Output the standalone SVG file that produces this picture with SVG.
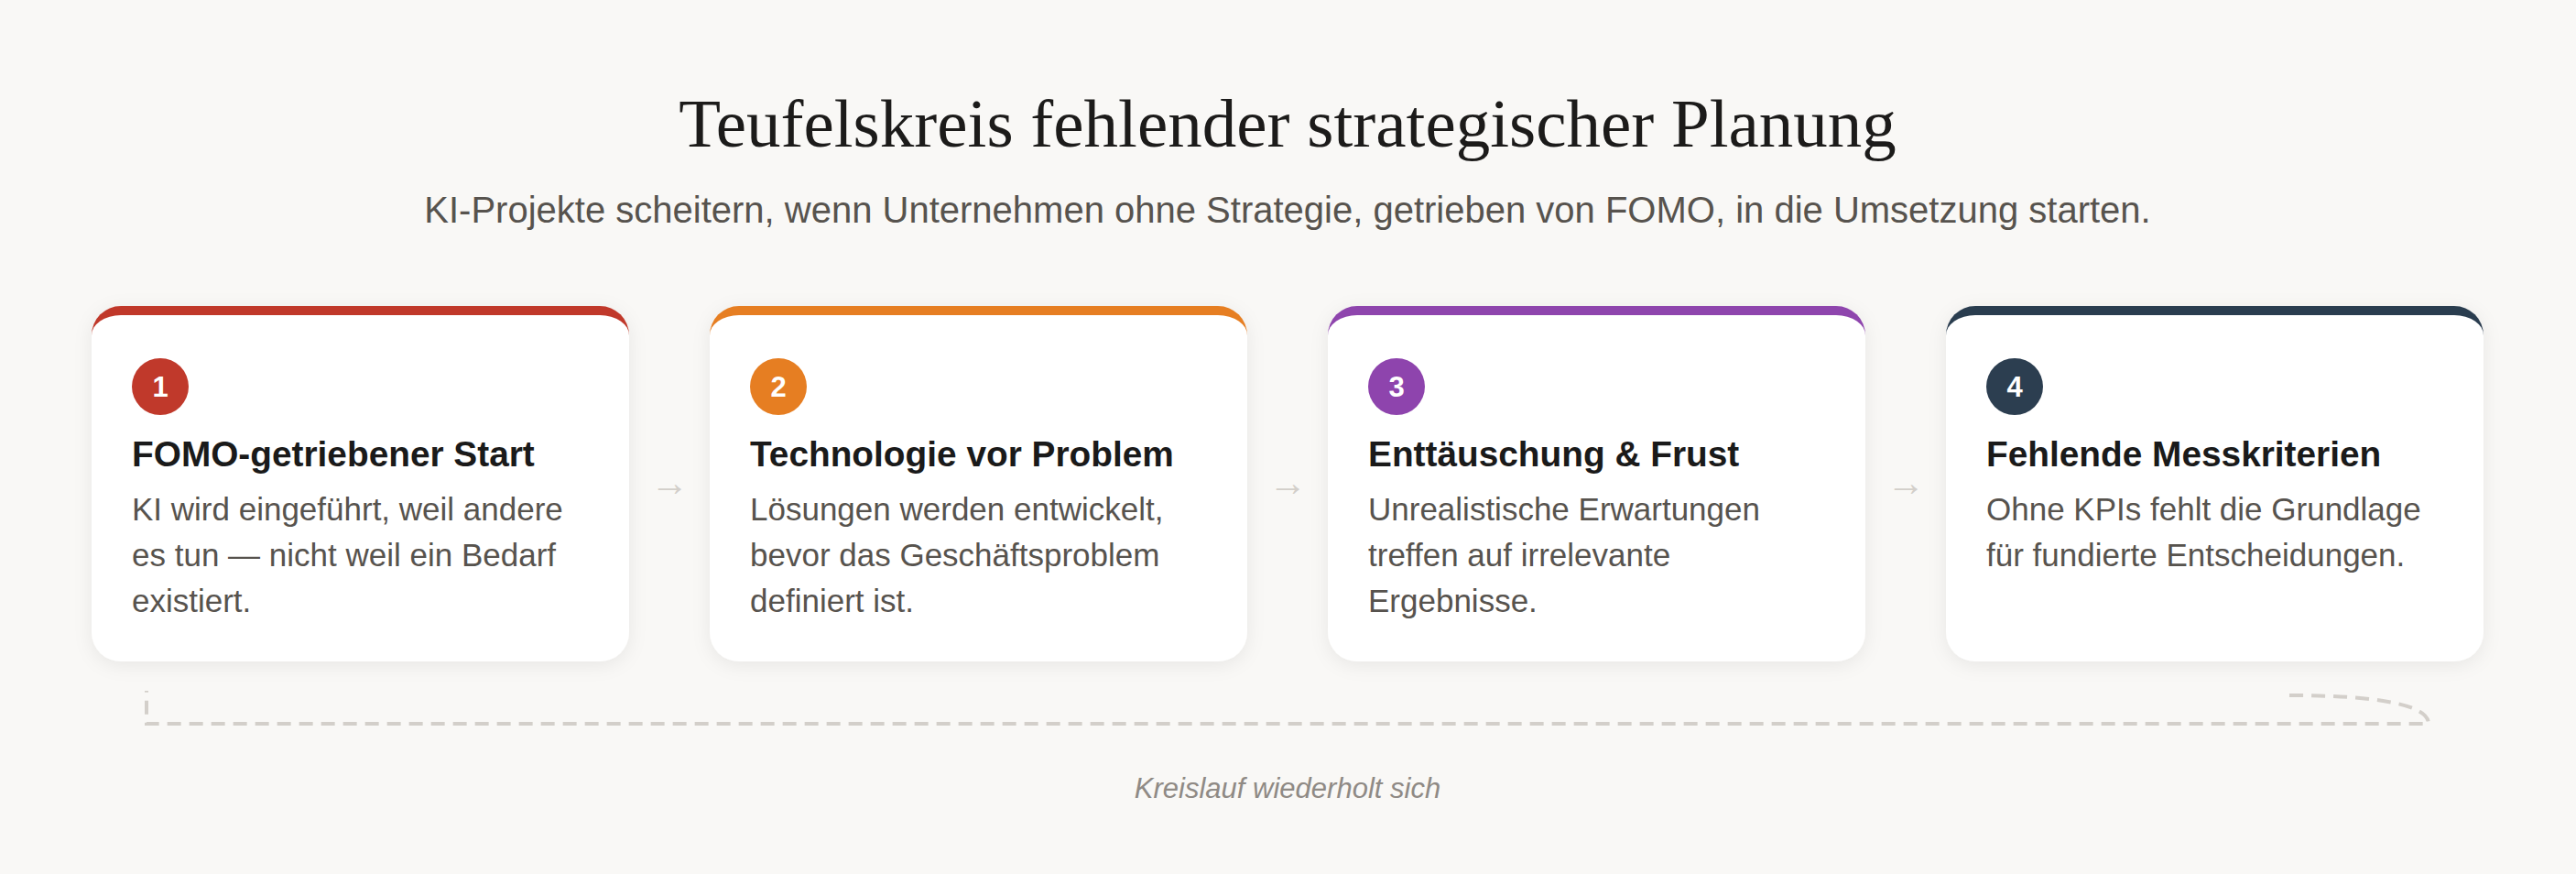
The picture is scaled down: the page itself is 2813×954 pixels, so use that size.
<svg xmlns="http://www.w3.org/2000/svg" width="2813" height="954" viewBox="0 0 2813 954">
<defs>
<style>
.bg{fill:#f9f8f6}
.title{font-family:"Liberation Serif","Times New Roman",serif;font-size:75px;fill:#1c1b1a;text-anchor:middle}
.sub{font-family:"Liberation Sans",Arial,sans-serif;font-size:40px;fill:#57534e;text-anchor:middle}
.card{fill:#ffffff}
.num{font-family:"Liberation Sans",Arial,sans-serif;font-size:31px;font-weight:bold;fill:#ffffff;text-anchor:middle}
.ctitle{font-family:"Liberation Sans",Arial,sans-serif;font-size:38.8px;font-weight:bold;fill:#1a1a1a}
.body{font-family:"Liberation Sans",Arial,sans-serif;font-size:35px;fill:#57534e}
.arrow{font-family:"Liberation Sans","DejaVu Sans",sans-serif;font-size:42px;fill:#d3cfca;text-anchor:middle}
.loop{fill:none;stroke:#d3cfca;stroke-width:4;stroke-dasharray:15 9}
.foot{font-family:"Liberation Sans",Arial,sans-serif;font-size:31px;font-style:italic;fill:#8f8a85;text-anchor:middle}
</style>
<filter id="sh" x="-10%" y="-10%" width="120%" height="125%">
<feDropShadow dx="0" dy="4" stdDeviation="10" flood-color="#000000" flood-opacity="0.07"/>
</filter>
</defs>
<rect class="bg" x="0" y="0" width="2813" height="954"/>
<g id="header">
<text class="title" x="1406" y="160">Teufelskreis fehlender strategischer Planung</text>
<text class="sub" x="1406" y="243">KI-Projekte scheitern, wenn Unternehmen ohne Strategie, getrieben von FOMO, in die Umsetzung starten.</text>
</g>
<g id="card1">
<g filter="url(#sh)">
<path fill="#c0392b" d="M100,366 A32,32 0 0 1 132,334 H655 A32,32 0 0 1 687,366 Z"/>
<path class="card" d="M100,366 A32,22 0 0 1 132,344 H655 A32,22 0 0 1 687,366 V690 A32,32 0 0 1 655,722 H132 A32,32 0 0 1 100,690 Z"/>
</g>
<circle cx="175" cy="422" r="31" fill="#c0392b"/>
<text class="num" x="175" y="433">1</text>
<text class="ctitle" x="144" y="509">FOMO-getriebener Start</text>
<text class="body" x="144" y="568">KI wird eingeführt, weil andere</text>
<text class="body" x="144" y="618">es tun — nicht weil ein Bedarf</text>
<text class="body" x="144" y="668">existiert.</text>
</g>
<g id="card2">
<g filter="url(#sh)">
<path fill="#e67e22" d="M775,366 A32,32 0 0 1 807,334 H1330 A32,32 0 0 1 1362,366 Z"/>
<path class="card" d="M775,366 A32,22 0 0 1 807,344 H1330 A32,22 0 0 1 1362,366 V690 A32,32 0 0 1 1330,722 H807 A32,32 0 0 1 775,690 Z"/>
</g>
<circle cx="850" cy="422" r="31" fill="#e67e22"/>
<text class="num" x="850" y="433">2</text>
<text class="ctitle" x="819" y="509">Technologie vor Problem</text>
<text class="body" x="819" y="568">Lösungen werden entwickelt,</text>
<text class="body" x="819" y="618">bevor das Geschäftsproblem</text>
<text class="body" x="819" y="668">definiert ist.</text>
</g>
<g id="card3">
<g filter="url(#sh)">
<path fill="#8e44ad" d="M1450,366 A32,32 0 0 1 1482,334 H2005 A32,32 0 0 1 2037,366 Z"/>
<path class="card" d="M1450,366 A32,22 0 0 1 1482,344 H2005 A32,22 0 0 1 2037,366 V690 A32,32 0 0 1 2005,722 H1482 A32,32 0 0 1 1450,690 Z"/>
</g>
<circle cx="1525" cy="422" r="31" fill="#8e44ad"/>
<text class="num" x="1525" y="433">3</text>
<text class="ctitle" x="1494" y="509">Enttäuschung &amp; Frust</text>
<text class="body" x="1494" y="568">Unrealistische Erwartungen</text>
<text class="body" x="1494" y="618">treffen auf irrelevante</text>
<text class="body" x="1494" y="668">Ergebnisse.</text>
</g>
<g id="card4">
<g filter="url(#sh)">
<path fill="#2c3e50" d="M2125,366 A32,32 0 0 1 2157,334 H2680 A32,32 0 0 1 2712,366 Z"/>
<path class="card" d="M2125,366 A32,22 0 0 1 2157,344 H2680 A32,22 0 0 1 2712,366 V690 A32,32 0 0 1 2680,722 H2157 A32,32 0 0 1 2125,690 Z"/>
</g>
<circle cx="2200" cy="422" r="31" fill="#2c3e50"/>
<text class="num" x="2200" y="433">4</text>
<text class="ctitle" x="2169" y="509">Fehlende Messkriterien</text>
<text class="body" x="2169" y="568">Ohne KPIs fehlt die Grundlage</text>
<text class="body" x="2169" y="618">für fundierte Entscheidungen.</text>
</g>
<g id="connectors">
<text class="arrow" x="731" y="541">→</text>
<text class="arrow" x="1406" y="541">→</text>
<text class="arrow" x="2081" y="541">→</text>
<path class="loop" d="M2500,759 C2600,759 2652,770 2652,790 L160,790 L160,754"/>
</g>
<g id="footer">
<text class="foot" x="1406" y="871">Kreislauf wiederholt sich</text>
</g>
</svg>
